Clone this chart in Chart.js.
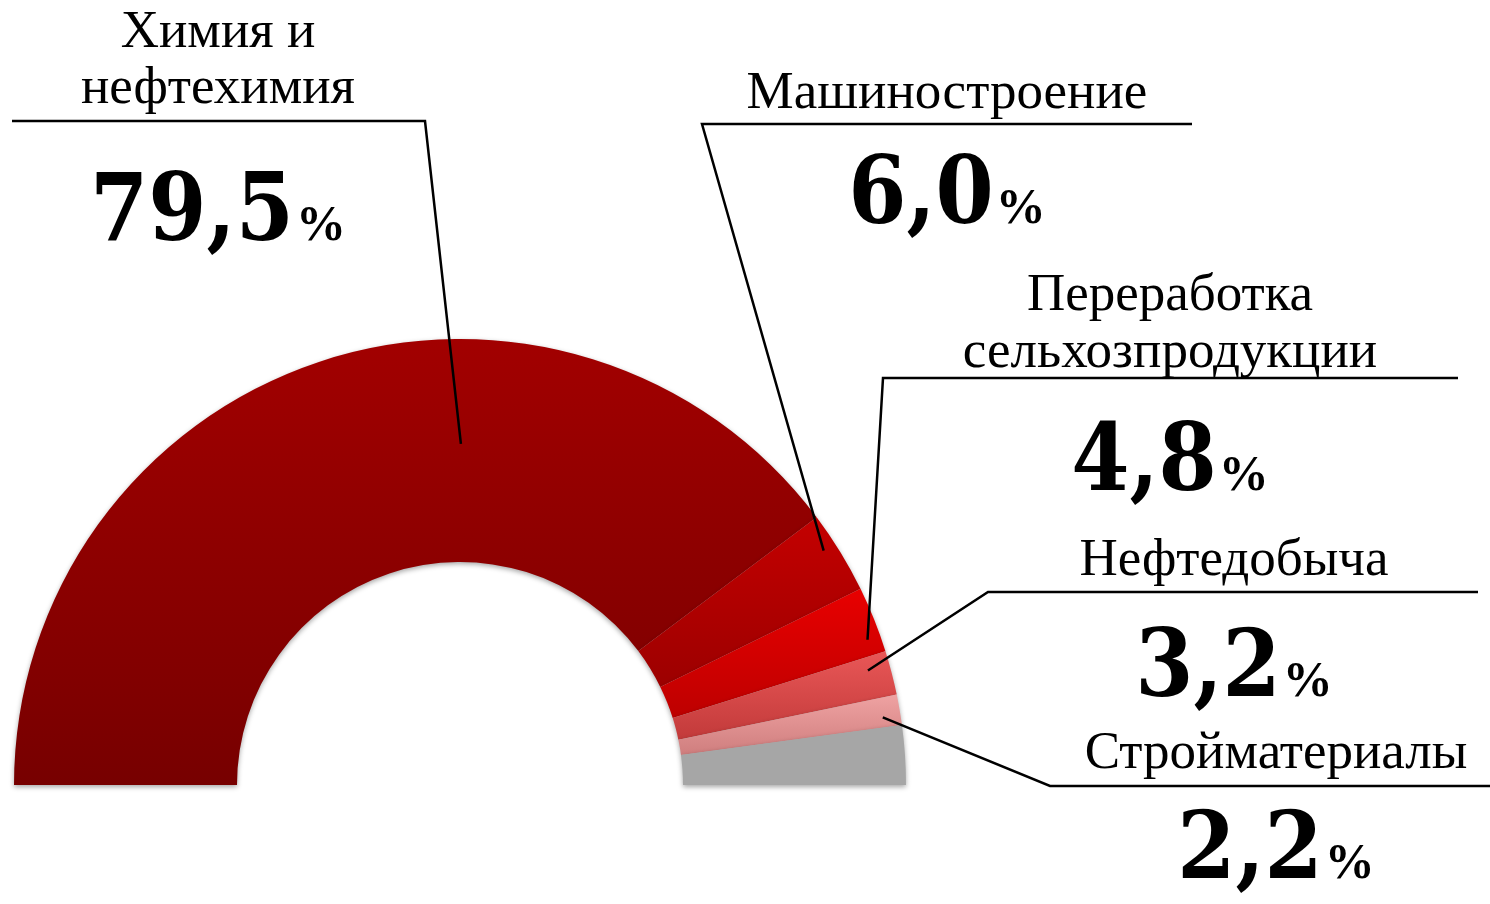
<!DOCTYPE html>
<html>
<head>
<meta charset="utf-8">
<script src="https://cdn.jsdelivr.net/npm/chart.js@4.4.1/dist/chart.umd.min.js"></script>
<style>
  html, body { margin: 0; padding: 0; background: #ffffff; }
  #wrap { position: relative; width: 1490px; height: 904px; overflow: hidden; }
  #chartBox { position: absolute; left: 0; top: 0; width: 1490px; height: 904px; }
  .name { position: absolute; width: 800px; text-align: center; white-space: nowrap;
          font-family: "Liberation Serif", "Times New Roman", serif; font-size: 53px; line-height: 53px; color: #000; }
  .val { position: absolute; width: 800px; text-align: center; white-space: nowrap;
         font-family: "DejaVu Serif Condensed", "DejaVu Serif", serif; font-stretch: condensed; font-weight: bold;
         font-size: 93px; line-height: 93px; color: #000; }
  .val .pct { font-family: "Liberation Serif", serif; font-weight: bold; font-size: 50px; line-height: 0; margin-left: 2px; font-stretch: normal; }
</style>
</head>
<body>
<div id="wrap">
  <div id="chartBox"><canvas id="c"></canvas></div>
</div>
<script>
// ---- data ----
const labelLines = [
  ['Химия и', 'нефтехимия'],
  ['Машиностроение'],
  ['Переработка', 'сельхозпродукции'],
  ['Нефтедобыча'],
  ['Стройматериалы'],
  ['Прочие']
];
const categories = labelLines.map(l => l.join(' '));
const shares = [79.5, 6.0, 4.8, 3.2, 2.2, 4.3];
const shareLabels = ['79,5', '6,0', '4,8', '3,2', '2,2', null];

// ---- styles ----
const topColors    = ['#a20000', '#c40000', '#e80000', '#e95757', '#efa2a2', '#a6a6a6'];
const bottomColors = ['#770000', '#9c0000', '#bd0000', '#c23a3a', '#cf7e7e', '#a6a6a6'];

// ---- label layout ----
const textLayout = [
  { cx: 218,  nameBase: [47, 103],  valBase: 240 },
  { cx: 947,  nameBase: [108],      valBase: 223 },
  { cx: 1170, nameBase: [310, 367], valBase: 490 },
  { cx: 1234, nameBase: [575],      valBase: 696 },
  { cx: 1276, nameBase: [768],      valBase: 878 }
];
const leaderLayout = [
  { elbowX: 425,  elbowY: 121, endX: 12,   af: 0.63, rf: 0.53 },
  { elbowX: 702,  elbowY: 124, endX: 1192, af: 0.38, rf: 0.94 },
  { elbowX: 883,  elbowY: 378, endX: 1458, af: 0.75, rf: 0.94 },
  { elbowX: 988,  elbowY: 592, endX: 1478, af: 0.31, rf: 0.90 },
  { elbowX: 1050, elbowY: 786, endX: 1490, af: 0.66, rf: 0.92 }
];

// HTML text labels
const wrap = document.getElementById('wrap');
textLayout.forEach((t, i) => {
  labelLines[i].forEach((line, k) => {
    const d = document.createElement('div');
    d.className = 'name';
    d.textContent = line;
    d.style.left = (t.cx - 400) + 'px';
    d.style.top = (t.nameBase[k] - 44.4) + 'px';
    wrap.appendChild(d);
  });
  const v = document.createElement('div');
  v.className = 'val';
  v.style.left = (t.cx - 400) + 'px';
  v.style.top = (t.valBase - 78.7) + 'px';
  const num = document.createElement('span');
  num.textContent = shareLabels[i];
  const pct = document.createElement('span');
  pct.className = 'pct';
  pct.textContent = '%';
  v.appendChild(num); v.appendChild(pct);
  wrap.appendChild(v);
});

function segGradient(context) {
  const chart = context.chart;
  const area = chart.chartArea;
  const i = context.dataIndex;
  if (!area || i === undefined) return topColors[0];
  const total = shares.reduce((a, b) => a + b, 0);
  let before = 0;
  for (let k = 0; k < i; k++) before += shares[k];
  const t1 = Math.PI * before / total;
  const t2 = Math.PI * (before + shares[i]) / total;
  const R = (area.right - area.left) / 2;
  const r = R * 0.5;
  const cy = area.bottom;
  const maxSin = (t1 <= Math.PI / 2 && t2 >= Math.PI / 2) ? 1 : Math.max(Math.sin(t1), Math.sin(t2));
  const minSin = Math.min(Math.sin(t1), Math.sin(t2));
  const yTop = cy - R * maxSin;
  const yBot = cy - r * minSin;
  const g = chart.ctx.createLinearGradient(0, yTop, 0, Math.max(yBot, yTop + 1));
  g.addColorStop(0, topColors[i]);
  g.addColorStop(1, bottomColors[i]);
  return g;
}

const shadowPlugin = {
  id: 'shadow',
  beforeDatasetsDraw(chart) {
    const ctx = chart.ctx;
    ctx.save();
    ctx.shadowColor = 'rgba(0,0,0,0.35)';
    ctx.shadowBlur = 5;
    ctx.shadowOffsetX = 0;
    ctx.shadowOffsetY = 2;
  },
  afterDatasetsDraw(chart) {
    chart.ctx.restore();
  }
};

const leaderPlugin = {
  id: 'leaders',
  afterDraw(chart) {
    const ctx = chart.ctx;
    const meta = chart.getDatasetMeta(0);
    ctx.save();
    ctx.strokeStyle = '#000';
    ctx.lineWidth = 2.5;
    ctx.lineJoin = 'miter';
    leaderLayout.forEach((L, i) => {
      const arc = meta.data[i];
      const p = arc.getProps(['x', 'y', 'startAngle', 'endAngle', 'innerRadius', 'outerRadius'], true);
      const a = p.startAngle + L.af * (p.endAngle - p.startAngle);
      const rad = p.innerRadius + L.rf * (p.outerRadius - p.innerRadius);
      const px = p.x + Math.cos(a) * rad;
      const py = p.y + Math.sin(a) * rad;
      ctx.beginPath();
      ctx.moveTo(px, py);
      ctx.lineTo(L.elbowX, L.elbowY);
      ctx.lineTo(L.endX, L.elbowY);
      ctx.stroke();
    });
    ctx.restore();
  }
};

new Chart(document.getElementById('c'), {
  type: 'doughnut',
  data: {
    labels: categories,
    datasets: [{
      data: shares,
      backgroundColor: segGradient,
      borderWidth: 0,
      clip: false
    }]
  },
  options: {
    responsive: true,
    maintainAspectRatio: false,
    animation: false,
    rotation: -90,
    circumference: 180,
    cutout: '50%',
    layout: { padding: { left: 14, top: 339, right: 584, bottom: 119 } },
    plugins: { legend: { display: false }, tooltip: { enabled: false } },
    events: []
  },
  plugins: [shadowPlugin, leaderPlugin]
});
</script>
</body>
</html>
